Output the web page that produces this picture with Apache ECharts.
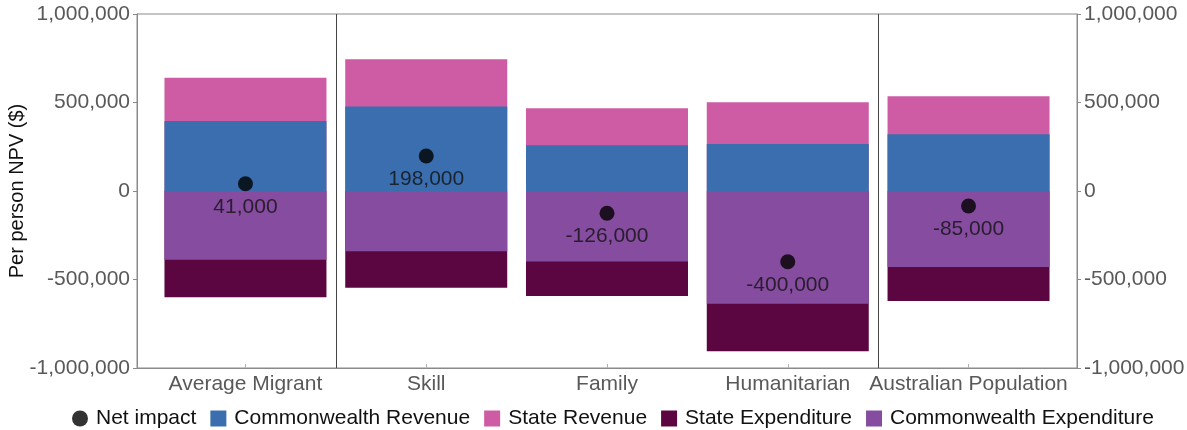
<!DOCTYPE html>
<html>
<head>
<meta charset="utf-8">
<script src="https://cdn.jsdelivr.net/npm/echarts@6/dist/echarts.min.js"></script>
<style>
html,body{margin:0;padding:0;background:#fff;}
#chart{width:1187px;height:430px;}
</style>
</head>
<body>
<div id="chart"></div>
<script>
// ---- data ----
const categories = ['Average Migrant', 'Skill', 'Family', 'Humanitarian', 'Australian Population'];
const commonwealthRevenue = [395000, 478000, 259000, 266000, 321000];
const stateRevenue = [245000, 266000, 208000, 236000, 215000];
const commonwealthExpenditure = [-389000, -340000, -399000, -637000, -429000];
const stateExpenditure = [-211000, -206000, -194000, -268000, -192000];
const netImpact = [41000, 198000, -126000, -400000, -85000];
const yTicks = [-1000000, -500000, 0, 500000, 1000000];
const groupBreaks = [0.5, 3.5];

const FONT = "'Liberation Sans', Arial, sans-serif";
const fmt = v => String(Math.round(v)).replace(/\B(?=(\d{3})+(?!\d))/g, ',');
const idx = categories.map((c, i) => i);

// stacked tops (revenue upward, expenditure downward), drawn as overlapping bars
const revTop = idx.map(i => [i, commonwealthRevenue[i] + stateRevenue[i]]);
const revBase = idx.map(i => [i, commonwealthRevenue[i]]);
const expBottom = idx.map(i => [i, commonwealthExpenditure[i] + stateExpenditure[i]]);
const expBase = idx.map(i => [i, commonwealthExpenditure[i]]);
const netPts = idx.map(i => [i, netImpact[i]]);

const C = {
  cwRev: '#3a6eaf',
  stRev: '#cd5ca4',
  stExp: '#5b0641',
  cwExp: '#854c9f'
};

const yAxisCommon = {
  type: 'value',
  min: yTicks[0],
  max: yTicks[yTicks.length - 1],
  interval: 500000,
  splitLine: { show: false },
  axisLine: { show: true, onZero: false, lineStyle: { color: '#8a8a8a', width: 1 } },
  axisTick: { show: true, length: 4, lineStyle: { color: '#8a8a8a' } },
  axisLabel: { color: '#595959', fontSize: 21, fontFamily: FONT, margin: 7, formatter: v => fmt(v) }
};

const barCommon = {
  type: 'bar',
  barWidth: 162,
  barGap: '-100%',
  silent: true
};

const chart = echarts.init(document.getElementById('chart'), null, { renderer: 'canvas' });
chart.setOption({
  animation: false,
  backgroundColor: '#fff',
  textStyle: { fontFamily: FONT },
  grid: {
    left: 137, right: 110, top: 14, bottom: 62,
    outerBoundsMode: 'none',
    containLabel: false,
    show: true, borderColor: '#8a8a8a', borderWidth: 1
  },
  legend: {
    top: 403,
    left: 67,
    itemWidth: 16,
    itemHeight: 16,
    itemGap: 14,
    textStyle: { fontSize: 21, color: '#111', fontFamily: FONT, padding: [0, 0, 0, 3] },
    data: [
      { name: 'Net impact', icon: 'circle' },
      { name: 'Commonwealth Revenue', icon: 'rect' },
      { name: 'State Revenue', icon: 'rect' },
      { name: 'State Expenditure', icon: 'rect' },
      { name: 'Commonwealth Expenditure', icon: 'rect' }
    ]
  },
  xAxis: {
    type: 'value',
    min: -0.6,
    max: 4.6,
    splitLine: { show: false },
    axisLine: { show: true, onZero: false, lineStyle: { color: '#8a8a8a' } },
    axisTick: { show: true, inside: true, length: 4, customValues: idx, lineStyle: { color: '#b0b0b0' } },
    axisLabel: {
      customValues: idx,
      color: '#595959', fontSize: 21, fontFamily: FONT, margin: 6,
      formatter: v => categories[Math.round(v)] || ''
    }
  },
  yAxis: [
    Object.assign({}, yAxisCommon, {
      position: 'left',
      name: 'Per person NPV ($)',
      nameLocation: 'middle',
      nameGap: 110,
      nameMoveOverlap: false,
      nameTextStyle: { color: '#111', fontSize: 20, fontFamily: FONT }
    }),
    Object.assign({}, yAxisCommon, { position: 'right' })
  ],
  series: [
    Object.assign({}, barCommon, { name: 'State Revenue', data: revTop, itemStyle: { color: C.stRev } }),
    Object.assign({}, barCommon, { name: 'Commonwealth Revenue', data: revBase, itemStyle: { color: C.cwRev } }),
    Object.assign({}, barCommon, { name: 'State Expenditure', data: expBottom, itemStyle: { color: C.stExp } }),
    Object.assign({}, barCommon, { name: 'Commonwealth Expenditure', data: expBase, itemStyle: { color: C.cwExp } }),
    {
      name: 'Net impact',
      type: 'scatter',
      data: netPts,
      symbol: 'circle',
      symbolSize: 15,
      z: 10,
      itemStyle: { color: '#000' },
      label: {
        show: true,
        position: 'bottom',
        distance: 5,
        color: '#111',
        fontSize: 21,
        fontFamily: FONT,
        formatter: p => fmt(p.value[1])
      },
      markLine: {
        silent: true,
        symbol: 'none',
        label: { show: false },
        lineStyle: { color: '#444', width: 1, type: 'solid' },
        data: groupBreaks.map(b => ({ xAxis: b }))
      }
    }
  ]
});
</script>
</body>
</html>
